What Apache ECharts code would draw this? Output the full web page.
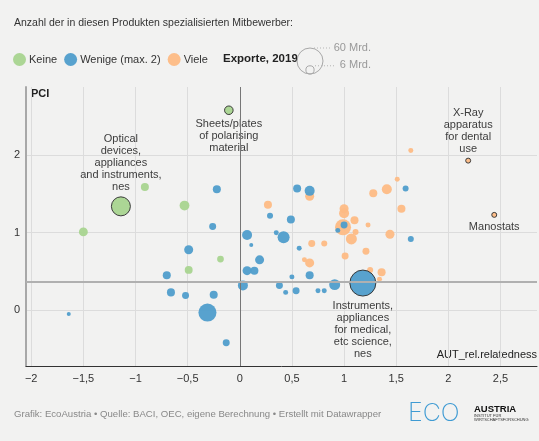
<!DOCTYPE html>
<html>
<head>
<meta charset="utf-8">
<script src="https://cdn.jsdelivr.net/npm/echarts@6/dist/echarts.min.js"></script>
<style>
  html, body { margin: 0; padding: 0; background: #f2f2f1; }
  #chart { width: 539px; height: 441px; }
</style>
</head>
<body>
<div id="chart"></div>
<script>
// [relatedness, PCI, exports in Mrd., label]
const keine = [
  [-1.14, 1.34, 32, 'Optical\ndevices,\nappliances\nand instruments,\nnes'],
  [-0.105, 2.58, 6.5, 'Sheets/plates\nof polarising\nmaterial'],
  [-0.91, 1.59, 5.7],
  [-0.53, 1.35, 8.5],
  [-1.50, 1.01, 7],
  [-0.185, 0.66, 4],
  [-0.49, 0.52, 5.5]
]
const wenige = [
  [1.18, 0.35, 60, 'Instruments,\nappliances\nfor medical,\netc science,\nnes'],
  [-0.31, -0.03, 29], [-1.64, -0.05, 1.4], [-0.22, 1.56, 5.7], [-0.26, 1.08, 4.3],
  [0.07, 0.97, 8.9], [0.11, 0.84, 1.4], [-0.49, 0.78, 7.2], [0.29, 1.22, 3.2],
  [0.35, 1.0, 2.2], [0.42, 0.94, 12.8], [0.19, 0.65, 7.2], [-0.70, 0.45, 5.7],
  [0.07, 0.51, 7.2], [0.14, 0.51, 5.7], [0.03, 0.32, 8.9], [-0.66, 0.23, 5.7],
  [-0.52, 0.19, 4.3], [-0.25, 0.20, 5.7], [-0.13, -0.42, 4.3], [0.38, 0.32, 4.3],
  [0.44, 0.23, 2.2], [0.50, 0.43, 2.2], [0.54, 0.25, 4.3], [0.67, 0.45, 5.7],
  [0.75, 0.25, 2.2], [0.81, 0.25, 2.2], [0.91, 0.33, 10.7], [0.57, 0.80, 2.2],
  [0.55, 1.57, 5.7], [0.67, 1.54, 8.9], [0.49, 1.17, 5.7], [1.0, 1.10, 4.3],
  [0.94, 1.03, 2.2], [1.59, 1.57, 3.2], [1.64, 0.92, 3.2]
]
const viele = [
  [0.27, 1.36, 5.7], [0.67, 1.47, 7.2], [0.62, 0.65, 2.2], [0.67, 0.61, 7.2],
  [1.01, 0.70, 4.3], [1.21, 0.76, 4.3], [1.25, 0.52, 3.2], [1.36, 0.49, 5.7],
  [1.34, 0.40, 2.2], [0.69, 0.86, 4.3], [0.81, 0.86, 3.2], [1.07, 0.92, 10.7],
  [1.0, 1.31, 7.2], [1.0, 1.25, 8.9], [0.99, 1.07, 22.7], [1.10, 1.16, 5.7],
  [1.11, 1.01, 3.2], [1.23, 1.10, 2.2], [1.28, 1.51, 5.7], [1.41, 1.56, 8.9],
  [1.51, 1.69, 2.2], [1.55, 1.31, 5.7], [1.44, 0.98, 7.2], [1.64, 2.06, 2.2],
  [2.19, 1.93, 2.2, 'X-Ray\napparatus\nfor dental\nuse'],
  [2.44, 1.23, 2.2, 'Manostats']
]
const sizeLegend = [60, 6]
const refX = 0
const refY = 0.37

const FONT = '"Liberation Sans", Arial, sans-serif'
const COLORS = { keine: '#a8d48f', wenige: '#4f9dcb', viele: '#fdbb84' }
const labelBelow = ['Sheets/plates\nof polarising\nmaterial', 'Manostats', 'Instruments,\nappliances\nfor medical,\netc science,\nnes']

const sizeOf = v => 26 * Math.sqrt(v / 60)
const fmt = v => String(v).replace('.', ',').replace('-', '\u2212')

function toData(points) {
  return points.slice().sort((a, b) => b[2] - a[2]).map(p => {
    const item = { value: [p[0], p[1], p[2]] }
    if (p[3]) {
      item.itemStyle = { borderColor: '#333', borderWidth: 1 }
      item.label = {
        show: true,
        formatter: p[3],
        position: labelBelow.includes(p[3]) ? 'bottom' : 'top',
        distance: 3,
        color: '#333',
        fontSize: 11,
        lineHeight: 12,
        fontFamily: FONT,
        align: 'center'
      }
    }
    return item
  })
}

function series(name, points, color, extra) {
  return Object.assign({
    name,
    type: 'scatter',
    data: toData(points),
    symbolSize: val => sizeOf(val[2]),
    itemStyle: { color, opacity: 0.95 },
    emphasis: { disabled: true }
  }, extra)
}

const chart = echarts.init(document.getElementById('chart'))
const outerR = sizeOf(sizeLegend[0]) / 2
const innerR = sizeOf(sizeLegend[1]) / 2
const legendBase = 74

chart.setOption({
  animation: false,
  backgroundColor: '#f2f2f1',
  textStyle: { fontFamily: FONT },
  grid: { left: 26, right: 2, top: 87, bottom: 75 },
  legend: {
    data: ['Keine', 'Wenige (max. 2)', 'Viele'],
    left: 8, top: 48,
    icon: 'circle', itemWidth: 13, itemHeight: 13, itemGap: 7,
    textStyle: { fontSize: 11, color: '#333', fontFamily: FONT, padding: [0, 0, 0, -2] },
    selectedMode: false
  },
  xAxis: {
    type: 'value', min: -2.05, max: 2.85, splitNumber: 10,
    axisLine: { onZero: false, lineStyle: { color: '#333', width: 1 } },
    axisTick: { show: false },
    axisLabel: { showMinLabel: false, showMaxLabel: false, color: '#333', fontSize: 11, margin: 7, formatter: fmt },
    splitLine: { showMinLine: false, showMaxLine: false, lineStyle: { color: '#dcdcdc' } }
  },
  yAxis: {
    type: 'value', min: -0.72, max: 2.88, splitNumber: 4,
    axisLine: { show: true, onZero: false, lineStyle: { color: '#a8a8a8', width: 2 } },
    axisTick: { show: false },
    axisLabel: { showMinLabel: false, showMaxLabel: false, color: '#333', fontSize: 11, margin: 6, formatter: fmt },
    splitLine: { showMinLine: false, showMaxLine: false, lineStyle: { color: '#dcdcdc' } }
  },
  series: [
    series('Viele', viele, COLORS.viele, { z: 2 }),
    series('Keine', keine, COLORS.keine, { z: 3 }),
    series('Wenige (max. 2)', wenige, COLORS.wenige, {
      z: 4,
      markLine: {
        silent: true, symbol: 'none', label: { show: false }, animation: false,
        data: [
          { xAxis: refX, lineStyle: { color: '#777', width: 1, type: 'solid' } },
          { yAxis: refY, lineStyle: { color: '#b0b0b0', width: 2, type: 'solid' } }
        ]
      }
    })
  ],
  graphic: [
    { type: 'text', left: 14, top: 18, style: { text: 'Anzahl der in diesen Produkten spezialisierten Mitbewerber:', font: '10.5px ' + FONT, fill: '#333' } },
    { type: 'text', left: 223, top: 53, style: { text: 'Exporte, 2019', font: 'bold 11.5px ' + FONT, fill: '#222' } },
    { type: 'circle', shape: { cx: 310, cy: legendBase - outerR, r: outerR }, style: { fill: 'none', stroke: '#a8a8a8', lineWidth: 1 } },
    { type: 'circle', shape: { cx: 310, cy: legendBase - innerR, r: innerR }, style: { fill: 'none', stroke: '#a8a8a8', lineWidth: 1 } },
    { type: 'line', shape: { x1: 314, y1: legendBase - 2 * outerR, x2: 331, y2: legendBase - 2 * outerR }, style: { stroke: '#b5b5b5', lineDash: [1, 2], lineWidth: 1 } },
    { type: 'line', shape: { x1: 315, y1: legendBase - 2 * innerR, x2: 334, y2: legendBase - 2 * innerR }, style: { stroke: '#b5b5b5', lineDash: [1, 2], lineWidth: 1 } },
    { type: 'text', right: 168, top: legendBase - 2 * outerR - 6, style: { text: sizeLegend[0] + ' Mrd.', font: '11px ' + FONT, fill: '#999' } },
    { type: 'text', right: 168, top: legendBase - 2 * innerR - 6, style: { text: sizeLegend[1] + ' Mrd.', font: '11px ' + FONT, fill: '#999' } },
    { type: 'text', left: 31, top: 88, style: { text: 'PCI', font: 'bold 11px ' + FONT, fill: '#222' } },
    { type: 'text', right: 2, top: 349, style: { text: 'AUT_rel.relatedness', font: '11px ' + FONT, fill: '#222' } },
    { type: 'text', left: 14, top: 409, style: { text: 'Grafik: EcoAustria \u2022 Quelle: BACI, OEC, eigene Berechnung \u2022 Erstellt mit Datawrapper', font: '9.6px ' + FONT, fill: '#888' } },
    { type: 'text', left: 408, top: 401, style: { text: 'ECO', font: '200 25px Inter, ' + FONT, fill: '#3f9bd3' } },
    { type: 'text', left: 474, top: 404, style: { text: 'AUSTRIA', font: 'bold 9.5px ' + FONT, fill: '#111' } },
    { type: 'text', left: 474, top: 414, style: { text: 'INSTITUT F\u00dcR', font: '4px ' + FONT, fill: '#333' } },
    { type: 'text', left: 474, top: 418, style: { text: 'WIRTSCHAFTSFORSCHUNG', font: '4px ' + FONT, fill: '#333' } }
  ]
})
</script>
</body>
</html>
